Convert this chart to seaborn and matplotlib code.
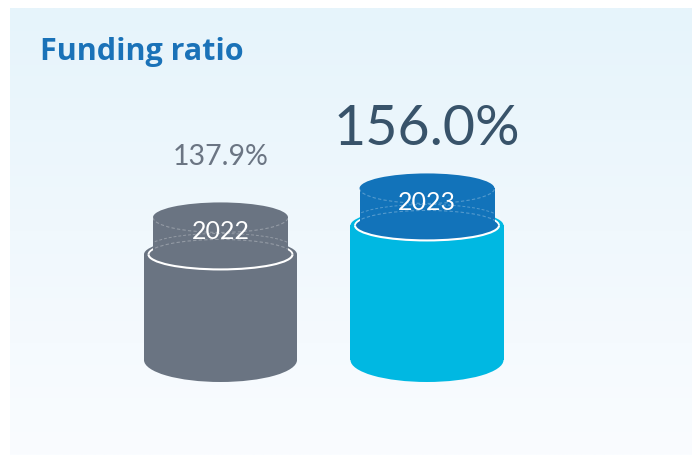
import numpy as np
import matplotlib
matplotlib.use("Agg")
import matplotlib.pyplot as plt
from matplotlib.patches import Ellipse, Rectangle, Arc
import seaborn as sns

# Data
years = ["2022", "2023"]
ratios = [137.9, 156.0]

# Styling
body_colors = ["#6a7482", "#00b8e2"]
lid_colors = ["#6a7482", "#1273ba"]
label_colors = ["#6b7583", "#38536a"]
label_sizes = [20.5, 40]
title_color = "#1a72b8"

sns.set_theme(style="white")
plt.rcParams["font.family"] = ["Lato", "DejaVu Sans"]

W, H = 692, 466
fig = plt.figure(figsize=(W / 100, H / 100), dpi=100)
fig.patch.set_facecolor("white")

# Background panel with a soft vertical gradient
ax_bg = fig.add_axes([0, 0, 1, 1])
ax_bg.set_xlim(0, W)
ax_bg.set_ylim(H, 0)
ax_bg.axis("off")
top = np.array([230, 244, 251]) / 255
bot = np.array([250, 252, 255]) / 255
t = np.linspace(0, 1, 256)[:, None, None]
grad = top * (1 - t) + bot * t
grad = np.repeat(grad, 2, axis=1)
ax_bg.imshow(grad, extent=[10, W, 455, 8], aspect="auto", interpolation="bilinear")

# Main axes: baseline of the cylinders sits at the bottom edge of the axes
base = 72.0
px_per_unit_y = 1.602
axes_bottom_px = 360
ax = fig.add_axes([0, (H - axes_bottom_px) / H, 1, axes_bottom_px / H])
ax.patch.set_alpha(0)

body_w = 0.741
sns.barplot(x=years, y=ratios, hue=years, palette=body_colors, saturation=1,
            width=body_w, linewidth=0, legend=False, ax=ax)

px_x = 206.5
ax.set_xlim(-220.5 / px_x, 1 + (W - 427) / px_x)
ax.set_ylim(base, base + axes_bottom_px / px_per_unit_y)
ax.axis("off")


def dy(px):
    return px / px_per_unit_y


def dx(px):
    return px / px_x


lid_w = dx(135)
ring_w = dx(144)
lid_rise = dy(37)
faint = (1, 1, 1, 0.28)

for i, (yr, v) in enumerate(zip(years, ratios)):
    bc, lc = body_colors[i], lid_colors[i]
    # bottom of the cylinder
    ax.add_patch(Ellipse((i, base), body_w, dy(44), facecolor=bc,
                         edgecolor="none", clip_on=False, zorder=1))
    # top shoulder of the body
    ax.add_patch(Ellipse((i, v), body_w, dy(34), facecolor=bc,
                         edgecolor="none", zorder=2))
    # ring where lid meets body: filled in the lid colour
    ax.add_patch(Ellipse((i, v), ring_w, dy(30), facecolor=lc,
                         edgecolor="none", zorder=3))
    ax.add_patch(Arc((i, v), ring_w, dy(30), theta1=0, theta2=180,
                     edgecolor="white", lw=1.3, zorder=3.5))
    ax.add_patch(Arc((i, v), ring_w, dy(30), theta1=180, theta2=360,
                     edgecolor="white", lw=1.5, zorder=6))
    # lid in front of the upper half of the ring
    ax.add_patch(Rectangle((i - lid_w / 2, v), lid_w, lid_rise,
                           facecolor=lc, edgecolor="none", zorder=4))
    ax.add_patch(Ellipse((i, v + lid_rise), lid_w, dy(30), facecolor=lc,
                         edgecolor="none", zorder=4))
    # faint dashed contours seen through the lid
    ax.add_patch(Arc((i, v + lid_rise), lid_w, dy(30), theta1=180, theta2=360,
                     edgecolor=faint, lw=0.8, ls=(0, (3, 2)), zorder=5))
    ax.add_patch(Arc((i, v), ring_w, dy(30), theta1=0, theta2=180,
                     edgecolor=faint, lw=0.8, ls=(0, (3, 2)), zorder=5))
    ax.add_patch(Arc((i, v + dy(6)), body_w * 0.96, dy(30), theta1=0, theta2=180,
                     edgecolor=faint, lw=0.7, ls=(0, (3, 2)), zorder=5))
    # year on the lid
    ax.text(i, v + dy(15), yr, ha="center", va="baseline", color="white",
            fontsize=18, zorder=7)
    # value label, centred about 100 px above the top of the body
    fs = label_sizes[i]
    ax.text(i, v + dy(100 - fs / 2), f"{v:.1f}%", ha="center", va="baseline",
            color=label_colors[i], fontsize=fs, zorder=7)

fig.text(40 / W, 1 - 60 / H, "Funding ratio", ha="left", va="baseline",
         fontsize=22, fontweight="bold", color=title_color,
         family=["Open Sans", "DejaVu Sans"])

fig.savefig("out.png", dpi=100)
